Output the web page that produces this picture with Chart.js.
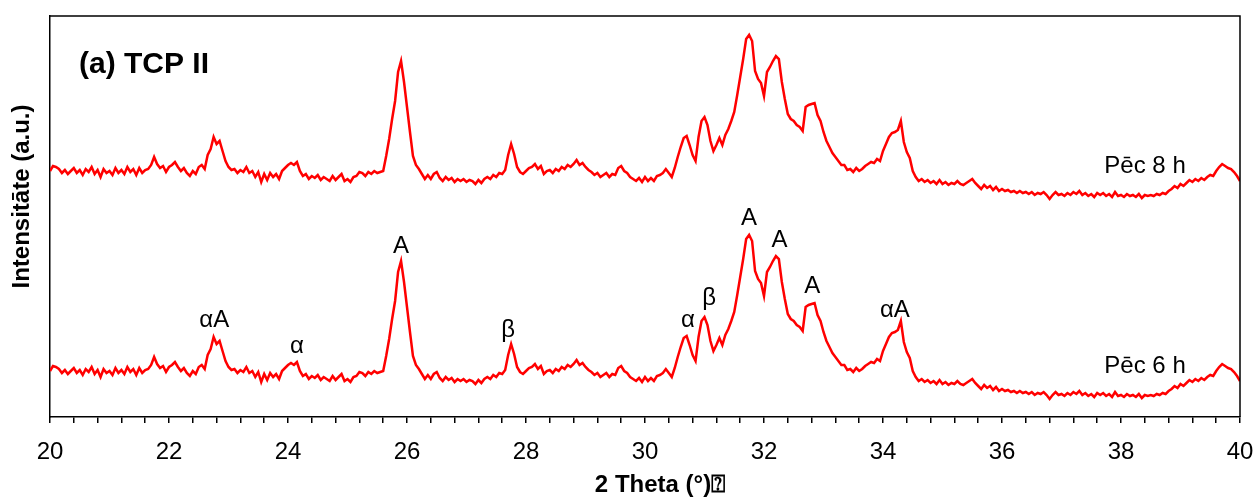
<!DOCTYPE html>
<html>
<head>
<meta charset="utf-8">
<script src="https://cdn.jsdelivr.net/npm/chart.js@4.4.1/dist/chart.umd.min.js"></script>
<style>
html, body { margin: 0; padding: 0; background: #fff; }
#wrap { width: 1254px; height: 497px; }
</style>
</head>
<body>
<div id="wrap"><canvas id="c" width="1254" height="497"></canvas></div>
<script>
// 2θ grid, 0.05° step from 20° to 40°
const twoTheta = [];
for (let i = 0; i <= 400; i++) twoTheta.push(Math.round((20 + i * 0.05) * 100) / 100);

// Intensity (a.u.), after 8 h (upper pattern)
const intensity8h = [
  246,251,250,248,244,247,243,246,249,244,247,242,248,245,250,243,247,240,248,244,
  246,242,249,244,247,243,250,245,248,242,249,244,247,248,252,260,253,249,251,245,
  250,252,255,250,246,249,244,241,246,243,250,252,248,262,268,280,273,276,266,256,
  250,247,248,244,247,245,250,244,246,240,245,235,243,237,244,240,243,238,246,249,
  252,254,252,255,246,241,243,238,241,239,242,237,240,238,236,241,237,240,243,236,
  238,235,240,241,245,244,241,245,243,246,244,245,246,261,278,298,316,345,356,335,
  310,285,261,252,248,243,238,242,238,243,245,239,236,240,237,239,235,238,236,238,
  235,237,236,233,237,234,238,240,238,242,240,244,243,247,262,273,263,250,245,243,
  246,249,250,253,248,251,243,246,247,244,248,246,250,248,252,250,253,257,252,254,
  250,247,245,242,244,240,242,244,240,243,242,249,251,246,244,240,238,236,239,235,
  240,236,239,236,241,242,244,248,244,240,249,260,270,279,281,272,262,256,280,296,
  300,292,276,266,272,279,272,282,288,296,305,322,340,358,378,382,376,346,338,334,
  321,345,350,356,361,358,335,318,303,298,296,292,290,286,310,312,313,314,302,296,
  285,276,270,264,260,256,252,252,247,248,245,249,246,248,251,253,255,254,258,256,
  266,273,280,284,285,287,296,275,265,259,246,240,236,238,235,237,234,236,233,237,
  233,235,232,234,233,236,233,232,234,236,238,234,231,228,232,229,231,227,230,226,
  228,226,227,225,226,224,226,224,225,223,225,222,224,223,225,222,218,222,225,222,
  223,221,224,222,225,223,226,222,224,221,223,220,224,222,224,221,223,220,225,221,
  222,220,223,221,222,220,223,219,222,221,222,221,223,222,224,223,226,228,231,229,
  233,231,234,237,235,238,236,239,237,240,242,241,246,250,253,251,249,248,245,241,
  236
];

// Intensity (a.u.), after 6 h (lower pattern)
const intensity6h = [
  46,51,50,48,44,47,43,46,49,44,47,42,48,45,50,43,47,40,48,44,
  46,42,49,44,47,43,50,45,48,42,49,44,47,48,52,60,53,49,51,45,
  50,52,55,50,46,49,44,41,46,43,50,52,48,62,68,80,73,76,66,56,
  50,47,48,44,47,45,50,44,46,40,45,35,43,37,44,40,43,38,46,49,
  52,54,52,55,46,41,43,38,41,39,42,37,40,38,36,41,37,40,43,36,
  38,35,40,41,45,44,41,45,43,46,44,45,46,61,78,98,116,145,156,135,
  110,85,61,52,48,43,38,42,38,43,45,39,36,40,37,39,35,38,36,38,
  35,37,36,33,37,34,38,40,38,42,40,44,43,47,62,73,63,50,45,43,
  46,49,50,53,48,51,43,46,47,44,48,46,50,48,52,50,53,57,52,54,
  50,47,45,42,44,40,42,44,40,43,42,49,51,46,44,40,38,36,39,35,
  40,36,39,36,41,42,44,48,44,40,49,60,70,79,81,72,62,56,80,96,
  100,92,76,66,72,79,72,82,88,96,105,122,140,158,178,182,176,146,138,134,
  121,145,150,156,161,158,135,118,103,98,96,92,90,86,110,112,113,114,102,96,
  85,76,70,64,60,56,52,52,47,48,45,49,46,48,51,53,55,54,58,56,
  66,73,80,84,85,87,96,75,65,59,46,40,36,38,35,37,34,36,33,37,
  33,35,32,34,33,36,33,32,34,36,38,34,31,28,32,29,31,27,30,26,
  28,26,27,25,26,24,26,24,25,23,25,22,24,23,25,22,18,22,25,22,
  23,21,24,22,25,23,26,22,24,21,23,20,24,22,24,21,23,20,25,21,
  22,20,23,21,22,20,23,19,22,21,22,21,23,22,24,23,26,28,31,29,
  33,31,34,37,35,38,36,39,37,40,42,41,46,50,53,51,49,48,45,41,
  36
];

const xTickLabels = ['20','22','24','26','28','30','32','34','36','38','40'];

// Phase labels above peaks (α, β, A)
const peakLabels    = ['αA', 'α', 'A', 'β', 'α', 'β', 'A', 'A', 'A', 'αA'];
const peakTwoTheta  = [22.76, 24.15, 25.9, 27.7, 30.72, 31.08, 31.75, 32.26, 32.81, 34.2];
const peakLevel     = [90, 64, 164, 80, 90, 112, 192, 170, 124, 100];

// Series names written next to the curves
const seriesNames   = ['Pēc 8 h', 'Pēc 6 h'];
const seriesNamePos = [37.72, 37.72];
const seriesNameLvl = [244, 44];

const panelTitle = '(a) TCP II';
const xTitle = '2 Theta (°)⍰';
const yTitle = 'Intensitāte (a.u.)';

const FONT = '"Liberation Sans", Arial, Helvetica, sans-serif';

const toPoints = (arr) => arr.map((v, i) => ({ x: twoTheta[i], y: v }));

const textPlugin = {
  id: 'xrdText',
  afterDraw(chart) {
    const { ctx, chartArea: ca, scales: { x, y } } = chart;
    ctx.save();
    // frame (top and right sides)
    ctx.strokeStyle = '#000';
    ctx.lineWidth = 1.5;
    ctx.beginPath();
    ctx.moveTo(ca.left, ca.top);
    ctx.lineTo(ca.right, ca.top);
    ctx.lineTo(ca.right, ca.bottom);
    ctx.stroke();

    ctx.fillStyle = '#000';
    ctx.font = '24px ' + FONT;
    ctx.textAlign = 'center';
    ctx.textBaseline = 'alphabetic';
    peakLabels.forEach((t, i) => {
      ctx.fillText(t, x.getPixelForValue(peakTwoTheta[i]), y.getPixelForValue(peakLevel[i]));
    });
    ctx.textAlign = 'left';
    seriesNames.forEach((t, i) => {
      ctx.fillText(t, x.getPixelForValue(seriesNamePos[i]), y.getPixelForValue(seriesNameLvl[i]));
    });
    ctx.font = 'bold 30px ' + FONT;
    ctx.fillText(panelTitle, ca.left + 29, ca.top + 57);

    // x axis title
    ctx.font = 'bold 24px ' + FONT;
    ctx.textAlign = 'center';
    ctx.textBaseline = 'middle';
    ctx.fillText(xTitle, (ca.left + ca.right) / 2 + 15, ca.bottom + 68);

    // y axis title
    ctx.translate(22, (ca.top + ca.bottom) / 2 - 20);
    ctx.rotate(-Math.PI / 2);
    ctx.fillText(yTitle, 0, 0);
    ctx.restore();
  }
};

new Chart(document.getElementById('c'), {
  type: 'line',
  data: {
    datasets: [
      { label: seriesNames[0], data: toPoints(intensity8h), borderColor: '#ff0000', borderWidth: 2.5, pointRadius: 0, tension: 0, fill: false },
      { label: seriesNames[1], data: toPoints(intensity6h), borderColor: '#ff0000', borderWidth: 2.5, pointRadius: 0, tension: 0, fill: false }
    ]
  },
  options: {
    responsive: false,
    animation: false,
    events: [],
    layout: { padding: { top: 16, right: 14, left: 0, bottom: 0 } },
    plugins: { legend: { display: false }, tooltip: { enabled: false } },
    scales: {
      x: {
        type: 'linear', min: 20, max: 40,
        afterFit: (s) => { s.height = 80; s.paddingLeft = 0; s.paddingRight = 0; },
        border: { display: true, color: '#000', width: 1.5 },
        grid: { display: true, drawOnChartArea: false, drawTicks: true, tickLength: 6, color: '#000', lineWidth: 1.5 },
        ticks: {
          stepSize: 0.4, autoSkip: false, maxRotation: 0, minRotation: 0, padding: 15,
          color: '#000', font: { family: FONT, size: 24 },
          callback: (v) => { const s = String(Math.round(v * 10) / 10); return xTickLabels.includes(s) ? s : ''; }
        },
        title: { display: false, text: xTitle }
      },
      y: {
        min: 0, max: 401,
        afterFit: (s) => { s.width = 50; },
        border: { display: true, color: '#000', width: 1.5 },
        grid: { display: false },
        ticks: { display: false },
        title: { display: false, text: yTitle }
      }
    }
  },
  plugins: [textPlugin]
});
</script>
</body>
</html>
